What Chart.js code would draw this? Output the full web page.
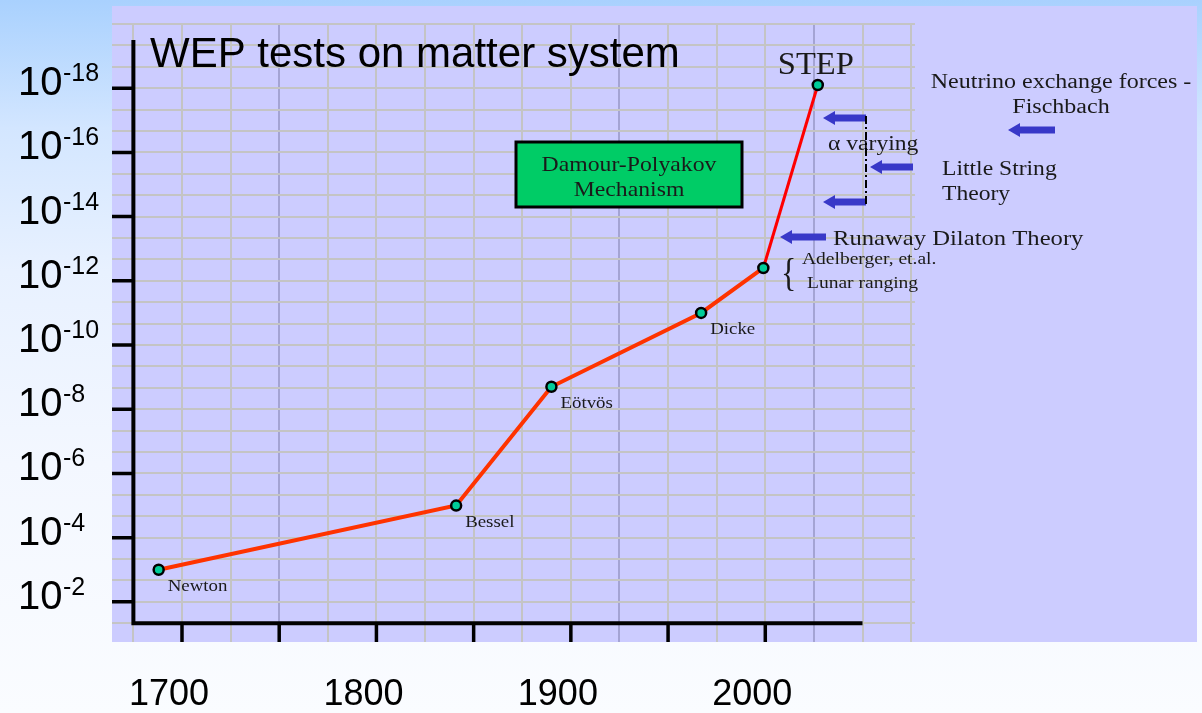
<!DOCTYPE html>
<html>
<head>
<meta charset="utf-8">
<title>WEP tests on matter system</title>
<script src="https://cdn.jsdelivr.net/npm/chart.js@4.4.1/dist/chart.umd.min.js"></script>
<style>
  html, body { margin: 0; padding: 0; }
  body {
    width: 1202px; height: 713px; overflow: hidden;
    background: linear-gradient(to bottom, #a9d1fe 0%, #d3e6ff 18%, #e8f1ff 38%, #f3f7ff 65%, #fafcff 100%);
  }
  canvas { display: block; }
</style>
</head>
<body>
<canvas id="myChart" width="1202" height="713"></canvas>
<script>
const years = [1688, 1841, 1890, 1967, 1999, 2027];
const exponents = [3, 5, 8.7, 11, 12.4, 18.1];
const pointNames = ["Newton", "Bessel", "Eötvös", "Dicke", "", "STEP"];

const yTickExps = [2, 4, 6, 8, 10, 12, 14, 16, 18];
const xTickYears = [1700, 1750, 1800, 1850, 1900, 1950, 2000];
const xLabelYears = [1700, 1800, 1900, 2000];
const blueGridYears = [1750, 1925, 2025];

const SANS = '"Liberation Sans", Arial, sans-serif';
const SERIF = '"Liberation Serif", "Times New Roman", serif';

function serifText(ctx, text, x, y, size, sx, align) {
  ctx.save();
  ctx.font = size + 'px ' + SERIF;
  ctx.fillStyle = '#1a1a1a';
  ctx.textAlign = align || 'left';
  ctx.textBaseline = 'alphabetic';
  ctx.translate(x, y);
  ctx.scale(sx, 1);
  ctx.fillText(text, 0, 0);
  ctx.restore();
}

function arrow(ctx, tipX, tailX, y) {
  ctx.save();
  ctx.fillStyle = '#3838c8';
  ctx.fillRect(tipX + 10, y - 3.5, tailX - tipX - 10, 7);
  ctx.beginPath();
  ctx.moveTo(tipX, y);
  ctx.lineTo(tipX + 12, y - 7);
  ctx.lineTo(tipX + 12, y + 7);
  ctx.closePath();
  ctx.fill();
  ctx.restore();
}

const slide = {
  id: 'slide',
  beforeDraw(chart) {
    const ctx = chart.ctx;
    ctx.save();
    ctx.fillStyle = '#ccccff';
    ctx.fillRect(112, 6, 1085, 636);
    ctx.restore();
  },
  beforeDatasetsDraw(chart) {
    const {ctx, chartArea, scales: {x, y}} = chart;
    const x0 = x.getPixelForValue(1675);
    const y0 = y.getPixelForValue(4 / 3);
    ctx.save();
    ctx.strokeStyle = '#000';
    ctx.lineWidth = 4;
    ctx.beginPath();
    ctx.moveTo(x0, y.getPixelForValue(19.5));
    ctx.lineTo(x0, y0);
    ctx.lineTo(x.getPixelForValue(2050), y0);
    ctx.stroke();

    ctx.lineWidth = 3.5;
    ctx.beginPath();
    yTickExps.forEach(e => {
      const py = y.getPixelForValue(e);
      ctx.moveTo(chartArea.left, py);
      ctx.lineTo(x0, py);
    });
    xTickYears.forEach(v => {
      const px = x.getPixelForValue(v);
      ctx.moveTo(px, y0);
      ctx.lineTo(px, chartArea.bottom);
    });
    ctx.stroke();
    ctx.restore();
  },
  afterDraw(chart) {
    const {ctx, scales: {x, y}} = chart;
    ctx.save();

    // y tick labels 10^-n
    ctx.fillStyle = '#000';
    ctx.textBaseline = 'alphabetic';
    yTickExps.forEach(e => {
      const py = y.getPixelForValue(e) + 7;
      ctx.font = '40px ' + SANS;
      ctx.textAlign = 'left';
      ctx.fillText('10', 18, py);
      ctx.font = '25px ' + SANS;
      ctx.fillText('-' + e, 63, py - 14);
    });

    // x labels below the plot
    ctx.font = '36px ' + SANS;
    ctx.textAlign = 'center';
    xLabelYears.forEach(v => {
      ctx.fillText(String(v), x.getPixelForValue(v) - 13, 705);
    });

    // title
    ctx.font = '42px ' + SANS;
    ctx.textAlign = 'left';
    ctx.fillText('WEP tests on matter system', 150, 67);
    ctx.restore();

    // point names
    const pts = chart.getDatasetMeta(0).data;
    pointNames.forEach((name, i) => {
      if (!name) return;
      const p = pts[i];
      if (name === 'STEP') {
        serifText(ctx, name, p.x - 2, p.y - 11, 31, 1.05, 'center');
      } else {
        serifText(ctx, name, p.x + 9, p.y + 21, 16, 1.18, 'left');
      }
    });

    // Damour-Polyakov box
    ctx.save();
    ctx.fillStyle = '#00cc66';
    ctx.fillRect(516, 142, 226, 65);
    ctx.strokeStyle = '#000';
    ctx.lineWidth = 3;
    ctx.strokeRect(516, 142, 226, 65);
    ctx.restore();
    serifText(ctx, 'Damour-Polyakov', 629, 171, 21, 1.13, 'center');
    serifText(ctx, 'Mechanism', 629, 196, 21, 1.13, 'center');

    // right-hand annotations
    serifText(ctx, 'Neutrino exchange forces -', 1061, 88, 20, 1.2, 'center');
    serifText(ctx, 'Fischbach', 1061, 113, 20, 1.2, 'center');
    serifText(ctx, 'α varying', 828, 150, 20, 1.18, 'left');
    serifText(ctx, 'Little String', 942, 175, 20, 1.18, 'left');
    serifText(ctx, 'Theory', 942, 200, 20, 1.18, 'left');
    serifText(ctx, 'Runaway Dilaton Theory', 833, 245, 22, 1.12, 'left');
    serifText(ctx, 'Adelberger, et.al.', 802, 264, 16, 1.22, 'left');
    serifText(ctx, 'Lunar ranging', 807, 288, 16, 1.22, 'left');
    serifText(ctx, '{', 781, 286, 40, 0.8, 'left');

    arrow(ctx, 823, 866, 118);
    arrow(ctx, 870, 913, 167);
    arrow(ctx, 823, 866, 202);
    arrow(ctx, 1008, 1055, 130);
    arrow(ctx, 780, 826, 237);

    // dash-dot bracket
    ctx.save();
    ctx.strokeStyle = '#000';
    ctx.lineWidth = 2;
    ctx.setLineDash([8, 3, 2, 3]);
    ctx.beginPath();
    ctx.moveTo(866, 116);
    ctx.lineTo(866, 205);
    ctx.stroke();
    ctx.restore();
  }
};

new Chart(document.getElementById('myChart'), {
  type: 'line',
  data: {
    datasets: [{
      data: years.map((yr, i) => ({x: yr, y: exponents[i]})),
      borderColor: '#ff3300',
      borderWidth: 4,
      tension: 0,
      pointRadius: 5,
      pointBorderWidth: 2.5,
      pointBackgroundColor: '#00cc99',
      pointBorderColor: '#000',
      segment: {
        borderColor: c => c.p1DataIndex === years.length - 1 ? '#ff0000' : undefined,
        borderWidth: c => c.p1DataIndex === years.length - 1 ? 3 : undefined
      }
    }]
  },
  options: {
    responsive: false,
    animation: false,
    layout: {padding: {left: 112, right: 287, top: 24, bottom: 71}},
    plugins: {legend: {display: false}, tooltip: {enabled: false}},
    scales: {
      x: {
        type: 'linear',
        min: 1664,
        max: 2077,
        border: {display: false},
        grid: {
          drawTicks: false,
          lineWidth: 2,
          color: c => blueGridYears.includes(c.tick && c.tick.value) ? '#a4a4d4' : '#c4c4c4'
        },
        ticks: {display: false, stepSize: 25, includeBounds: false, maxTicksLimit: 1000}
      },
      y: {
        type: 'linear',
        min: 0.75,
        max: 20,
        border: {display: false},
        grid: {drawTicks: false, lineWidth: 2, color: '#c4c4c4'},
        ticks: {display: false, stepSize: 2 / 3, includeBounds: false, maxTicksLimit: 1000}
      }
    }
  },
  plugins: [slide]
});
</script>
</body>
</html>
